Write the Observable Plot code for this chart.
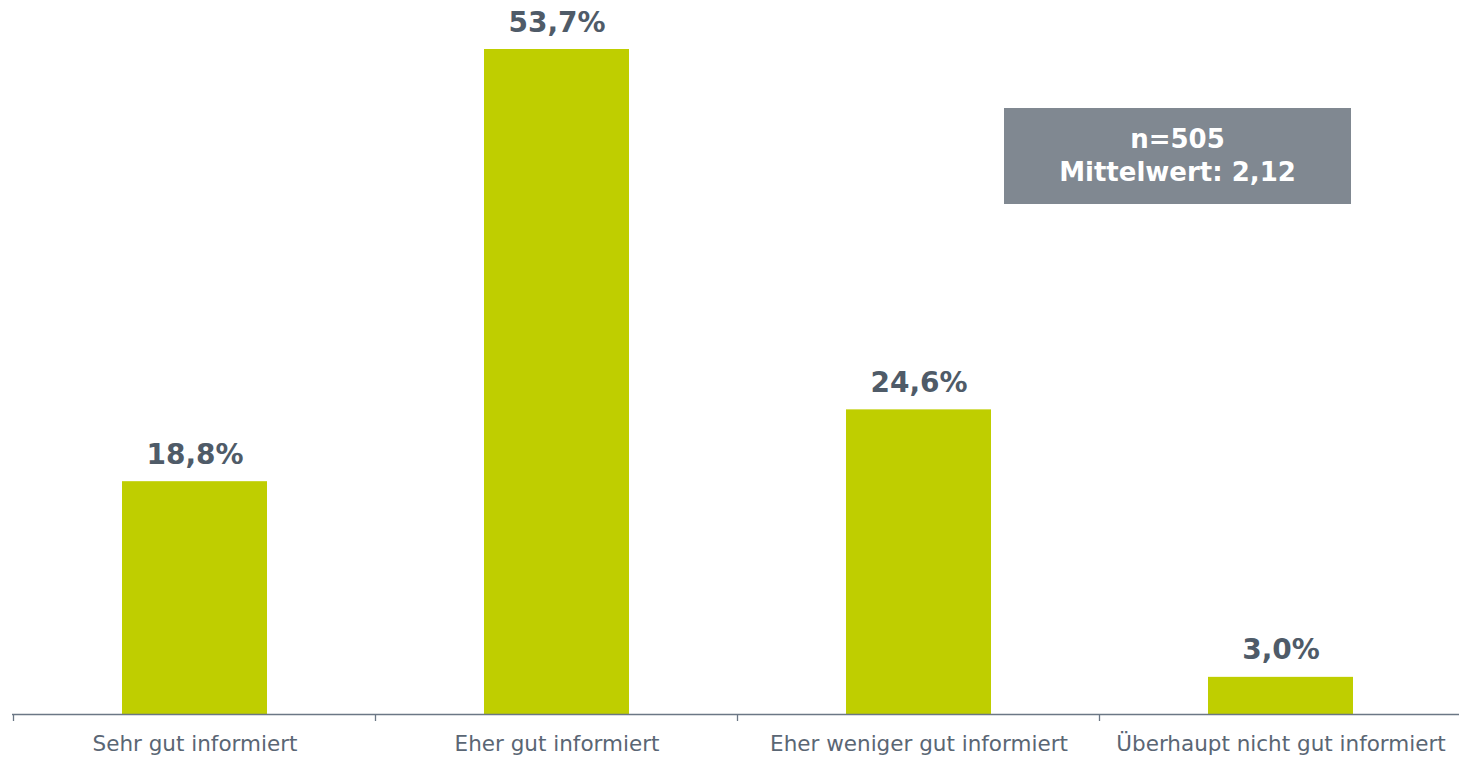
<!DOCTYPE html>
<html>
<head>
<meta charset="utf-8">
<script src="https://cdn.jsdelivr.net/npm/d3@7"></script>
<script src="https://cdn.jsdelivr.net/npm/@observablehq/plot@0.6"></script>
<style>
  html, body { margin: 0; padding: 0; background: #fff; overflow: hidden; }
  #wrap { position: relative; width: 1459px; height: 757px; overflow: hidden; }
  #wrap svg { overflow: hidden; }
  #note {
    position: absolute; left: 1004px; top: 108px; width: 347px; height: 96px;
    background: #808891; color: #fff; font-family: "DejaVu Sans", Verdana, sans-serif;
    font-weight: bold; font-size: 26px; line-height: 33px; text-align: center;
    display: flex; flex-direction: column; justify-content: center;
  }
</style>
</head>
<body>
<div id="wrap"></div>
<script>
const categories = ["Sehr gut informiert", "Eher gut informiert", "Eher weniger gut informiert", "Überhaupt nicht gut informiert"];
const values = [18.8, 53.7, 24.6, 3.0];
const valueLabels = ["18,8%", "53,7%", "24,6%", "3,0%"];
const noteLines = ["n=505", "Mittelwert: 2,12"];

const data = categories.map((c, i) => ({cat: c, v: values[i], label: valueLabels[i]}));

const plot = Plot.plot({
  width: 1459,
  height: 757,
  marginLeft: 12,
  marginRight: -3,
  marginTop: 49,
  marginBottom: 43,
  style: {fontFamily: "DejaVu Sans, Verdana, sans-serif", background: "#fff"},
  x: {domain: categories, paddingInner: 0.6, paddingOuter: 0.3, align: 0.5, axis: null},
  y: {domain: [0, 53.7], axis: null},
  marks: [
    Plot.barY(data, {x: "cat", y: "v", fill: "#BFCE00"}),
    Plot.text(data, {x: "cat", y: "v", text: "label", dy: -18, lineAnchor: "bottom",
      fill: "#4F5B68", fontWeight: "bold", fontSize: 28}),
    Plot.ruleY([0], {stroke: "#6B7785", strokeWidth: 1.3}),
    Plot.text(data, {x: "cat", y: 0, text: "cat", dy: 30, fill: "#5A6674", fontSize: 21.5})
  ]
});

// band-boundary tick marks using the plot's x scale
const xs = plot.scale("x");
const svg = d3.select(plot);
const y0 = plot.scale("y").apply(0);
const step = xs.step;
const gap = step - xs.bandwidth;
const bounds = categories.map(c => xs.apply(c) - gap / 2);
bounds.push(bounds[bounds.length - 1] + step);
svg.append("g")
  .selectAll("line")
  .data(bounds)
  .join("line")
  .attr("x1", d => Math.max(d, 12.5)).attr("x2", d => Math.max(d, 12.5))
  .attr("y1", y0).attr("y2", y0 + 7)
  .attr("stroke", "#6B7785").attr("stroke-width", 1.3);

const wrap = document.getElementById("wrap");
wrap.appendChild(plot);
const note = document.createElement("div");
note.id = "note";
noteLines.forEach(t => { const d = document.createElement("div"); d.textContent = t; note.appendChild(d); });
wrap.appendChild(note);
</script>
</body>
</html>
